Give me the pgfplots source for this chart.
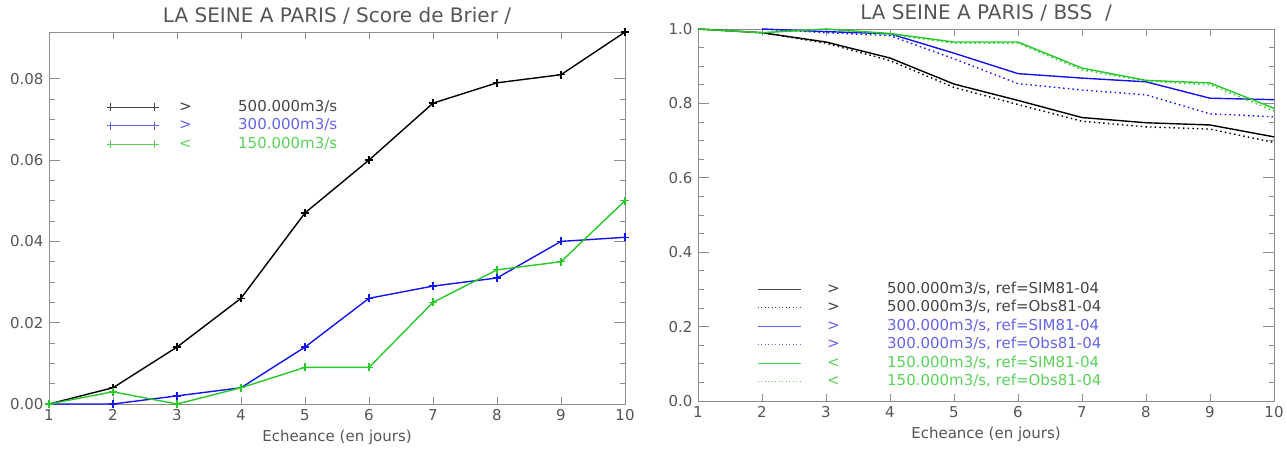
\documentclass[border=0pt]{standalone}
\usepackage{fontspec}
\setmainfont{DejaVu Sans}
\usepackage{pgfplots}
\pgfplotsset{compat=1.18}
\definecolor{txt}{HTML}{555555}
\definecolor{ax}{HTML}{8C8C8C}
\definecolor{bl}{HTML}{1414F0}
\definecolor{gr}{HTML}{28C828}
\definecolor{blt}{HTML}{6464E6}
\definecolor{grt}{HTML}{5AD25A}
\definecolor{bkt}{HTML}{444444}
\pgfplotsset{
 base/.style={
  scale only axis, width=576pt, height=372pt,
  xmin=1, xmax=10, xtick={1,...,10}, xticklabels={1,2,3,4,5,6,7,8,9,10},
  tick pos=both, tick align=inside, clip=false,
  axis line style={ax, line width=1pt},
  every tick/.style={ax, line width=0.8pt},
  major tick length=11pt, minor tick length=5.5pt,
  xtick style={/pgfplots/major tick length=7pt},
  minor y tick num=3, scaled y ticks=false,
  tick label style={font=\fontsize{15}{18}\selectfont, text=txt},
  /pgf/number format/assume math mode=true,
  xticklabel style={yshift=-2pt},
  yticklabel style={xshift=-2pt},
  xlabel={Echeance (en jours)},
  xlabel style={font=\fontsize{15}{18}\selectfont, text=txt, at={(0.5,0)}, anchor=base, yshift=-37pt},
  title style={font=\fontsize{20}{24}\selectfont, text=txt, at={(0.5,1)}, anchor=base, yshift=4pt},
  legend style={draw=none, fill=none, inner sep=0pt, anchor=north west,
    font=\fontsize{15}{18}\selectfont, column sep=0pt, row sep=4.5pt,
    nodes={inner xsep=0pt, inner ysep=0pt, text height=11pt, text depth=3pt}},
  legend cell align=left,
 },
 solidleg/.style={legend image code/.code={\draw[#1, line width=1pt] (0pt,0pt) -- (43pt,0pt);}},
 dotleg/.style={legend image code/.code={\draw[#1, line width=1pt, dash pattern=on 1pt off 2.5pt] (0pt,0pt) -- (43pt,0pt);}},
}
\begin{document}
\begin{tikzpicture}
\useasboundingbox (0,0) rectangle (1287pt,448pt);
\begin{axis}[base, at={(49pt,44pt)}, anchor=south west,
  ymin=0, ymax=0.0915, ytick={0,0.02,0.04,0.06,0.08},
  yticklabels={0.00,0.02,0.04,0.06,0.08},
  title={LA SEINE A PARIS / Score de Brier /},
  legend style={at={(0.0998,0.817)}},
  legend image code/.code={\draw[#1] plot coordinates {(0pt,0pt) (44pt,0pt)};},
  every axis plot/.append style={line width=1.4pt, mark=+, mark size=4pt, mark options={line width=1.3pt}}]
\addplot[black, legend image post style={bkt, line width=1pt, mark options={line width=1pt}}] coordinates {(1,0)(2,0.004)(3,0.014)(4,0.026)(5,0.047)(6,0.060)(7,0.074)(8,0.079)(9,0.081)(10,0.0915)};
\addlegendentry{\hspace{20.5pt}\textcolor{bkt}{\makebox[59pt][l]{>}500.000m3/s}}
\addplot[bl, legend image post style={blt, line width=1pt, mark options={line width=1pt}}] coordinates {(1,0)(2,0)(3,0.002)(4,0.004)(5,0.014)(6,0.026)(7,0.029)(8,0.031)(9,0.040)(10,0.041)};
\addlegendentry{\hspace{20.5pt}\textcolor{blt}{\makebox[59pt][l]{>}300.000m3/s}}
\addplot[gr, legend image post style={grt, line width=1pt, mark options={line width=1pt}}] coordinates {(1,0)(2,0.003)(3,0)(4,0.004)(5,0.009)(6,0.009)(7,0.025)(8,0.033)(9,0.035)(10,0.050)};
\addlegendentry{\hspace{20.5pt}\textcolor{grt}{\makebox[59pt][l]{<}150.000m3/s}}
\end{axis}
\begin{axis}[base, at={(698pt,47pt)}, anchor=south west,
  ymin=0, ymax=1.0, ytick={0,0.2,0.4,0.6,0.8,1.0},
  yticklabels={0.0,0.2,0.4,0.6,0.8,1.0},
  title={LA SEINE A PARIS / BSS\ \ /},
  legend style={at={(0.1024,0.32)}},
  every axis plot/.append style={line width=1.4pt, no marks}]
\addplot[black, solidleg=bkt] coordinates {(1,1.0)(2,0.99)(3,0.965)(4,0.922)(5,0.852)(6,0.808)(7,0.762)(8,0.748)(9,0.742)(10,0.71)};
\addlegendentry{\hspace{26pt}\textcolor{bkt}{\makebox[60pt][l]{>}500.000m3/s, ref=SIM81-04}}
\addplot[black, dash pattern=on 1.5pt off 3.2pt, dotleg=bkt] coordinates {(1,1.0)(2,0.99)(3,0.962)(4,0.915)(5,0.843)(6,0.797)(7,0.752)(8,0.737)(9,0.731)(10,0.695)};
\addlegendentry{\hspace{26pt}\textcolor{bkt}{\makebox[60pt][l]{>}500.000m3/s, ref=Obs81-04}}
\addplot[bl, solidleg=blt] coordinates {(2,1.0)(3,0.993)(4,0.987)(5,0.935)(6,0.88)(7,0.868)(8,0.858)(9,0.814)(10,0.81)};
\addlegendentry{\hspace{26pt}\textcolor{blt}{\makebox[60pt][l]{>}300.000m3/s, ref=SIM81-04}}
\addplot[bl, dash pattern=on 1.5pt off 3.2pt, dotleg=blt] coordinates {(2,1.0)(3,0.99)(4,0.982)(5,0.92)(6,0.853)(7,0.836)(8,0.823)(9,0.772)(10,0.764)};
\addlegendentry{\hspace{26pt}\textcolor{blt}{\makebox[60pt][l]{>}300.000m3/s, ref=Obs81-04}}
\addplot[gr, solidleg=grt] coordinates {(1,1.0)(2,0.99)(3,1.0)(4,0.988)(5,0.965)(6,0.965)(7,0.895)(8,0.862)(9,0.855)(10,0.787)};
\addlegendentry{\hspace{26pt}\textcolor{grt}{\makebox[60pt][l]{<}150.000m3/s, ref=SIM81-04}}
\addplot[gr, dash pattern=on 1.5pt off 3.2pt, dotleg=grt] coordinates {(1,1.0)(2,0.99)(3,1.0)(4,0.985)(5,0.962)(6,0.962)(7,0.89)(8,0.86)(9,0.85)(10,0.78)};
\addlegendentry{\hspace{26pt}\textcolor{grt}{\makebox[60pt][l]{<}150.000m3/s, ref=Obs81-04}}
\end{axis}
\end{tikzpicture}
\end{document}
